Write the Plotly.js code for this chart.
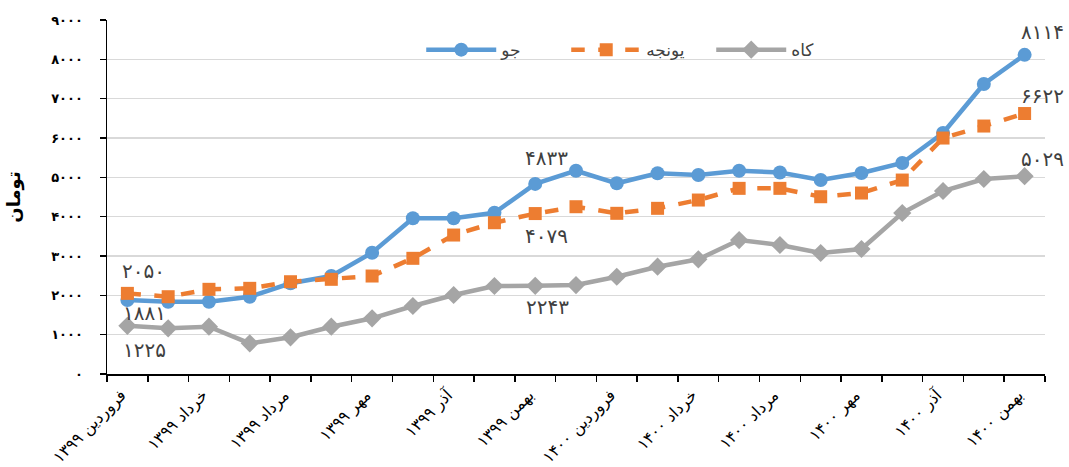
<!DOCTYPE html>
<html>
<head>
<meta charset="utf-8">
<script src="https://cdn.plot.ly/plotly-3.0.1.min.js"></script>
<style>html,body{margin:0;padding:0;background:#fff;}#chart{width:1069px;height:467px;}</style>
</head>
<body>
<div id="chart"></div>
<script>
// Categories (months, Farvardin 1399 .. Bahman 1400)
const months = [
  'فروردین ۱۳۹۹','اردیبهشت ۱۳۹۹','خرداد ۱۳۹۹','تیر ۱۳۹۹','مرداد ۱۳۹۹','شهریور ۱۳۹۹',
  'مهر ۱۳۹۹','آبان ۱۳۹۹','آذر ۱۳۹۹','دی ۱۳۹۹','بهمن ۱۳۹۹','اسفند ۱۳۹۹',
  'فروردین ۱۴۰۰','اردیبهشت ۱۴۰۰','خرداد ۱۴۰۰','تیر ۱۴۰۰','مرداد ۱۴۰۰','شهریور ۱۴۰۰',
  'مهر ۱۴۰۰','آبان ۱۴۰۰','آذر ۱۴۰۰','دی ۱۴۰۰','بهمن ۱۴۰۰'
];
// Series (toman)
const barley = [1881,1838,1838,1965,2306,2491,3084,3958,3958,4100,4833,5168,4848,5102,5059,5168,5122,4931,5109,5364,6126,7372,8114];
const alfalfa = [2050,1965,2153,2178,2346,2407,2491,2941,3533,3846,4079,4253,4085,4212,4423,4720,4720,4507,4601,4931,5999,6304,6622];
const straw = [1225,1162,1202,780,933,1202,1416,1729,2008,2237,2243,2262,2473,2728,2916,3406,3280,3076,3178,4093,4652,4957,5029];
const seriesNames = ['جو','یونجه','کاه'];
const yTicks = [0,1000,2000,3000,4000,5000,6000,7000,8000,9000];
const labelIdx = [0,10,22];

const fa = s => String(s).replace(/[0-9]/g, d => '۰۱۲۳۴۵۶۷۸۹'[+d]);
const idx = months.map((m,i)=>i);
const tickIdx = idx.filter(i => i % 2 === 0);

const FONT = 'DejaVu Sans, Noto Sans, sans-serif';
const colors = {b:'#5b9bd5', o:'#ed7d31', g:'#a5a5a5'};

const traces = [
  {x: idx, y: straw, name: seriesNames[2], legendrank: 3, mode:'lines+markers',
   line:{color:colors.g, width:4.5}, marker:{symbol:'diamond', size:14, color:colors.g}},
  {x: idx, y: barley, name: seriesNames[0], legendrank: 1, mode:'lines+markers',
   line:{color:colors.b, width:4.5}, marker:{symbol:'circle', size:14, color:colors.b}},
  {x: idx, y: alfalfa, name: seriesNames[1], legendrank: 2, mode:'lines+markers',
   line:{color:colors.o, width:4.5, dash:'dash'}, marker:{symbol:'square', size:13, color:colors.o}}
];

// data label offsets (style only)
const offs = {
  b: [[17,-13],[11,26],[18,23]],
  o: [[16,22],[11,-22],[18,18]],
  g: [[17,-24],[12,-21],[18,17]]
};
const annotations = [];
[['b',barley],['o',alfalfa],['g',straw]].forEach(([k,arr])=>{
  labelIdx.forEach((i,j)=>{
    annotations.push({x:i, y:arr[i], xref:'x', yref:'y', text: fa(arr[i]), showarrow:false,
      xshift: offs[k][j][0], yshift: offs[k][j][1],
      font:{family:FONT, size:20, color:'#404040'}});
  });
});

const layout = {
  width:1069, height:467,
  margin:{l:107, r:24, t:20, b:93},
  paper_bgcolor:'#fff', plot_bgcolor:'#fff',
  showlegend:true,
  legend:{orientation:'h', x:0.335, xanchor:'left', y:0.915, yanchor:'middle',
    bgcolor:'rgba(0,0,0,0)', traceorder:'normal', itemwidth:70,
    font:{family:FONT, size:17, color:'#404040'}, entrywidth:60, entrywidthmode:'pixels'},
  xaxis:{range:[-0.5,22.5], tickmode:'array', tickvals: tickIdx, ticktext: tickIdx.map(i=>months[i]),
    ticks:'', tickangle:-45, showgrid:false, zeroline:false, ticklabelstandoff:4, ticklabelshift:-6,
    showline:true, linecolor:'#000', linewidth:1.5,
    tickfont:{family:FONT, size:16, color:'#000'},
    minor:{tickmode:'linear', tick0:-0.5, dtick:1, ticks:'outside', ticklen:6, tickcolor:'#000', tickwidth:1.5, showgrid:false}},
  yaxis:{range:[0,9000], tickmode:'array', tickvals:yTicks, ticktext:yTicks.map(fa),
    ticks:'outside', ticklen:6, tickcolor:'#000', tickwidth:1.5, ticklabelstandoff:14,
    showline:true, linecolor:'#000', linewidth:1.5,
    showgrid:true, gridcolor:'#d9d9d9', gridwidth:1.5, zeroline:false,
    tickfont:{family:FONT, size:13, color:'#000', weight:'bold'},
    title:{text:'تومان', standoff:26, font:{family:FONT, size:18, color:'#000', weight:'bold'}}},
  annotations: annotations
};

Plotly.newPlot('chart', traces, layout, {displayModeBar:false, staticPlot:true});
</script>
</body>
</html>
